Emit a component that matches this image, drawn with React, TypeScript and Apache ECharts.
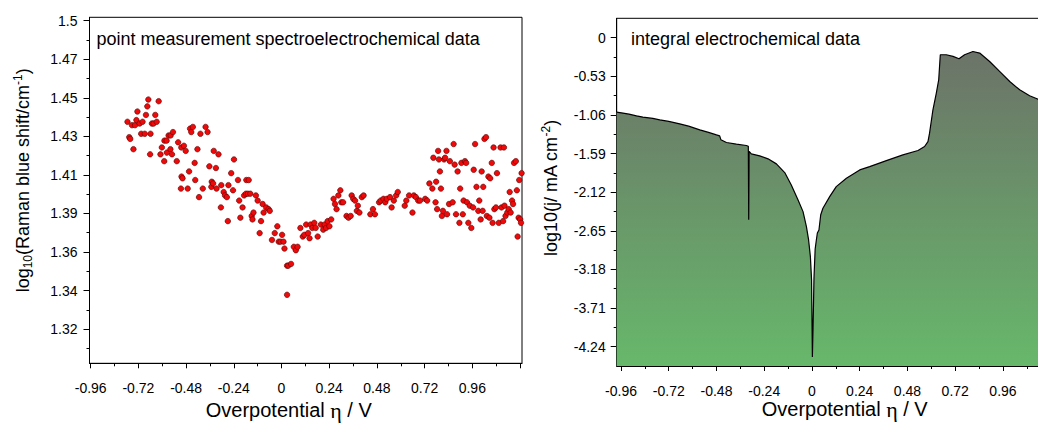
import React, { useEffect, useRef } from 'react';
import * as echarts from 'echarts';

// ---------- tick labels ----------
const X_TICKS = [-0.96, -0.72, -0.48, -0.24, 0, 0.24, 0.48, 0.72, 0.96, 1.2];
const X_MINOR_TICKS = [-0.84, -0.6, -0.36, -0.12, 0.12, 0.36, 0.6, 0.84, 1.08];
const X_LABEL_VALUES = [-0.96, -0.72, -0.48, -0.24, 0, 0.24, 0.48, 0.72, 0.96];
const X_LABELS = ['-0.96', '-0.72', '-0.48', '-0.24', '0', '0.24', '0.48', '0.72', '0.96'];

const RAMAN_Y_TICKS = [1.32, 1.3425, 1.365, 1.3875, 1.41, 1.4325, 1.455, 1.4775, 1.5];
const RAMAN_Y_LABELS = ['1.32', '1.34', '1.36', '1.39', '1.41', '1.43', '1.45', '1.47', '1.5'];
const RAMAN_Y_MINOR = [1.30875, 1.33125, 1.35375, 1.37625, 1.39875, 1.42125, 1.44375, 1.46625, 1.48875];

const CURRENT_Y_TICKS = [0, -0.53, -1.06, -1.59, -2.12, -2.65, -3.18, -3.71, -4.24];
const CURRENT_Y_LABELS = ['0', '-0.53', '-1.06', '-1.59', '-2.12', '-2.65', '-3.18', '-3.71', '-4.24'];
const CURRENT_Y_MINOR = [-0.265, -0.795, -1.325, -1.855, -2.385, -2.915, -3.445, -3.975];

// ---------- data: point measurement (Raman) ----------
const RAMAN_X = [
  -0.775, -0.766, -0.752, -0.737, -0.730, -0.725, -0.714, -0.706, -0.699, -0.688,
  -0.682, -0.675, -0.670, -0.659, -0.652, -0.644, -0.635, -0.628, -0.618, -0.568,
  -0.558, -0.546, -0.460, -0.454, -0.446, -0.408, -0.382, -0.372,
  -0.761, -0.745, -0.661, -0.609, -0.602, -0.590, -0.589, -0.578, -0.577, -0.559,
  -0.551, -0.527, -0.520, -0.504, -0.491, -0.482, -0.437, -0.423, -0.503, -0.498,
  -0.465, -0.506, -0.472, -0.434, -0.415, -0.396, -0.363, -0.351, -0.341, -0.330,
  -0.317, -0.353, -0.344, -0.327, -0.305, -0.303, -0.291, -0.284, -0.275, -0.270,
  -0.267, -0.253, -0.244, -0.239, -0.219, -0.213, -0.207, -0.196, -0.188, -0.177,
  -0.165, -0.179, -0.169, -0.157, -0.150, -0.146, -0.141, -0.129, -0.120, -0.110,
  -0.103, -0.095, -0.090, -0.077, -0.065, -0.059, -0.048, -0.034, -0.021, -0.014,
  -0.005, 0.003, 0.010, 0.015, 0.028, 0.034, 0.048, 0.062, 0.072, 0.081,
  0.095, 0.107, 0.115, 0.124, 0.134, 0.141, 0.146, 0.155, 0.165, 0.172,
  0.182, 0.198, 0.210, 0.217, 0.224, 0.232, 0.241, 0.250, 0.262, 0.269,
  0.277, 0.286, 0.296, 0.301, 0.310, 0.327, 0.337, 0.348, 0.353, 0.361,
  0.370, 0.379, 0.384, 0.392, 0.404, 0.413, 0.447, 0.460, 0.470, 0.491,
  0.499, 0.513, 0.522, 0.530, 0.546, 0.554, 0.565, 0.577, 0.585, 0.620,
  0.628, 0.642, 0.659, 0.666, 0.676, 0.688, 0.697, 0.723, 0.733, 0.744,
  0.759, 0.764, 0.775, 0.778, 0.783, 0.788, 0.792, 0.797, 0.802, 0.807,
  0.812, 0.818, 0.823, 0.830, 0.833, 0.843, 0.847, 0.861, 0.866, 0.871,
  0.878, 0.886, 0.895, 0.899, 0.905, 0.912, 0.916, 0.923, 0.929, 0.933,
  0.940, 0.947, 0.955, 0.964, 0.967, 0.974, 0.981, 0.990, 0.995, 1.002,
  1.007, 1.012, 1.015, 1.021, 1.029, 1.033, 1.041, 1.046, 1.050, 1.058,
  1.062, 1.067, 1.071, 1.079, 1.084, 1.093, 1.102, 1.107, 1.115, 1.119,
  1.122, 1.127, 1.136, 1.143, 1.148, 1.153, 1.160, 1.165, 1.170, 1.179,
  1.184, 1.188, 1.193, 1.196, 1.201, 1.205, 1.208, 0.028,
];
const RAMAN_Y = [
  1.441, 1.432, 1.439, 1.439, 1.442, 1.447, 1.440, 1.434, 1.441, 1.434,
  1.445, 1.450, 1.454, 1.434, 1.440, 1.440, 1.445, 1.441, 1.453, 1.433,
  1.433, 1.435, 1.437, 1.435, 1.438, 1.434, 1.438, 1.435,
  1.431, 1.425, 1.422, 1.422, 1.426, 1.418, 1.430, 1.430, 1.423, 1.425,
  1.422, 1.418, 1.429, 1.426, 1.427, 1.424, 1.417, 1.425, 1.409, 1.408,
  1.412, 1.402, 1.402, 1.407, 1.397, 1.402, 1.415, 1.406, 1.424, 1.414,
  1.422, 1.403, 1.405, 1.402, 1.391, 1.404, 1.400, 1.398, 1.397, 1.383,
  1.404, 1.411, 1.401, 1.419, 1.407, 1.395, 1.385, 1.391, 1.398, 1.407,
  1.407, 1.399, 1.399, 1.399, 1.386, 1.384, 1.388, 1.398, 1.395, 1.376,
  1.383, 1.393, 1.388, 1.391, 1.390, 1.389, 1.372, 1.376, 1.380, 1.371,
  1.371, 1.375, 1.371, 1.367, 1.357, 1.357, 1.358, 1.368, 1.366, 1.368,
  1.379, 1.374, 1.375, 1.381, 1.376, 1.373, 1.381, 1.379, 1.382, 1.379,
  1.374, 1.381, 1.378, 1.381, 1.379, 1.383, 1.380, 1.384, 1.396, 1.393,
  1.390, 1.398, 1.401, 1.394, 1.394, 1.386, 1.385, 1.386, 1.398, 1.396,
  1.395, 1.389, 1.392, 1.388, 1.397, 1.398, 1.387, 1.390, 1.387, 1.394,
  1.395, 1.396, 1.394, 1.396, 1.397, 1.391, 1.395, 1.398, 1.400, 1.392,
  1.395, 1.398, 1.388, 1.398, 1.397, 1.395, 1.395, 1.396, 1.395, 1.405,
  1.402, 1.420, 1.394, 1.406, 1.390, 1.424, 1.419, 1.412, 1.402, 1.386,
  1.389, 1.419, 1.420, 1.424, 1.387, 1.393, 1.418, 1.394, 1.428, 1.416,
  1.387, 1.412, 1.382, 1.402, 1.417, 1.387, 1.395, 1.418, 1.417, 1.394,
  1.382, 1.392, 1.379, 1.391, 1.413, 1.428, 1.403, 1.389, 1.395, 1.384,
  1.412, 1.389, 1.403, 1.431, 1.432, 1.386, 1.409, 1.385, 1.408, 1.417,
  1.382, 1.426, 1.390, 1.391, 1.411, 1.382, 1.426, 1.391, 1.383, 1.426,
  1.392, 1.386, 1.388, 1.390, 1.400, 1.388, 1.395, 1.393, 1.417, 1.418,
  1.401, 1.374, 1.385, 1.407, 1.384, 1.382, 1.411, 1.340,
];

// ---------- data: integral electrochemical ----------
const CURRENT_X = [
  -0.982, -0.95, -0.92, -0.882, -0.85, -0.80, -0.765, -0.72, -0.665, -0.62,
  -0.564, -0.52, -0.48, -0.464, -0.458, -0.43, -0.38, -0.33, -0.320, -0.318,
  -0.316, -0.305, -0.263, -0.221, -0.179, -0.137, -0.104, -0.070, -0.045, -0.028,
  -0.017, -0.008, -0.002, 0.002, 0.006, 0.010, 0.016, 0.022, 0.027, 0.035,
  0.044, 0.055, 0.089, 0.122, 0.173, 0.24, 0.29, 0.374, 0.457, 0.533,
  0.566, 0.583, 0.591, 0.608, 0.625, 0.637, 0.645, 0.675, 0.709, 0.739,
  0.767, 0.809, 0.843, 0.893, 0.943, 0.994, 1.044, 1.094, 1.134, 1.17, 1.21,
];
const CURRENT_Y = [
  -1.022, -1.035, -1.05, -1.073, -1.09, -1.108, -1.128, -1.15, -1.183, -1.215,
  -1.265, -1.30, -1.335, -1.348, -1.40, -1.439, -1.462, -1.48, -1.49, -2.50,
  -1.56, -1.595, -1.622, -1.663, -1.732, -1.851, -2.021, -2.227, -2.387, -2.593,
  -2.776, -3.005, -3.326, -4.38, -3.9, -3.3, -2.9, -2.776, -2.68, -2.64,
  -2.43, -2.341, -2.181, -2.044, -1.929, -1.815, -1.769, -1.687, -1.609, -1.549,
  -1.494, -1.426, -1.311, -0.990, -0.761, -0.578, -0.235, -0.235, -0.258, -0.290,
  -0.235, -0.190, -0.212, -0.327, -0.464, -0.602, -0.716, -0.798, -0.843, -0.875, -0.90,
];

const FONT = '"Liberation Sans", Arial, sans-serif';
const SERIF = '"Liberation Serif", "Times New Roman", serif';

const lookup = (values: number[], labels: string[]) => (v: number) => {
  const i = values.findIndex((t) => Math.abs(t - v) < 1e-6);
  return i >= 0 ? labels[i] : '';
};

export default function App() {
  const ref = useRef<HTMLDivElement>(null);

  useEffect(() => {
    if (!ref.current) return;
    const chart = echarts.init(ref.current, undefined, { renderer: 'svg' });

    const nameRich = {
      m: { fontFamily: FONT, fontSize: 18, color: '#000', lineHeight: 22 },
      sub: { fontFamily: FONT, fontSize: 12, color: '#000', lineHeight: 12, verticalAlign: 'bottom' },
      sup: { fontFamily: FONT, fontSize: 12, color: '#000', lineHeight: 12, verticalAlign: 'top' },
    };
    const xNameRich = {
      m: { fontFamily: FONT, fontSize: 20, color: '#000', lineHeight: 22 },
      eta: { fontFamily: SERIF, fontSize: 22, color: '#000', lineHeight: 22 },
    };

    const baseLabel = { fontFamily: FONT, fontSize: 14, color: '#000' };

    const mainX = (grid: number, min: number, gap: number, padding: number[]) => ({
      type: 'value',
      gridIndex: grid,
      min,
      max: 1.21,
      position: 'bottom',
      name: '{m|Overpotential }{eta|η}{m| / V}',
      nameLocation: 'middle',
      nameGap: gap,
      nameMoveOverlap: false,
      nameTextStyle: { rich: xNameRich, padding },
      axisLine: { show: true, onZero: false, lineStyle: { color: '#000', width: 1 } },
      axisTick: { show: true, length: 5, customValues: X_TICKS, lineStyle: { color: '#000' } },
      axisLabel: {
        ...baseLabel,
        margin: 18,
        customValues: X_LABEL_VALUES,
        formatter: lookup(X_LABEL_VALUES, X_LABELS),
      },
      splitLine: { show: false },
    });
    const minorX = (grid: number, min: number) => ({
      type: 'value',
      gridIndex: grid,
      min,
      max: 1.21,
      position: 'bottom',
      axisLine: { show: false, onZero: false },
      axisTick: { show: true, length: 3, customValues: X_MINOR_TICKS, lineStyle: { color: '#000' } },
      axisLabel: { show: false },
      splitLine: { show: false },
    });

    const gridBase = {
      show: true,
      borderColor: '#000',
      borderWidth: 1,
      backgroundColor: 'transparent',
      containLabel: false,
      outerBoundsMode: 'none',
    };

    const option = {
      animation: false,
      backgroundColor: '#fff',
      grid: [
        { ...gridBase, left: 89.5, top: 17.3, width: 432.5, height: 346 },
        { ...gridBase, left: 616.7, top: 18.3, width: 436, height: 347.7 },
      ],
      xAxis: [
        mainX(0, -0.966, 36, [0, 34, 0, 0]),
        minorX(0, -0.966),
        mainX(1, -0.9816, 32, [0, 0, 0, 20]),
        minorX(1, -0.9816),
      ],
      yAxis: [
        {
          type: 'value',
          gridIndex: 0,
          min: 1.3,
          max: 1.502,
          position: 'left',
          name: '{m|log}{sub|10}{m|(Raman blue shift/cm}{sup|-1}{m|)}',
          nameLocation: 'middle',
          nameRotate: 90,
          nameGap: 56,
          nameTextStyle: { rich: nameRich, padding: [0, 0, 0, 20] },
          axisLine: { show: true, onZero: false, lineStyle: { color: '#000', width: 1 } },
          axisTick: { show: true, length: 6, customValues: RAMAN_Y_TICKS, lineStyle: { color: '#000' } },
          axisLabel: { ...baseLabel, margin: 12, customValues: RAMAN_Y_TICKS, formatter: lookup(RAMAN_Y_TICKS, RAMAN_Y_LABELS) },
          splitLine: { show: false },
        },
        {
          type: 'value',
          gridIndex: 0,
          min: 1.3,
          max: 1.502,
          position: 'left',
          axisLine: { show: false, onZero: false },
          axisTick: { show: true, length: 3, customValues: RAMAN_Y_MINOR, lineStyle: { color: '#000' } },
          axisLabel: { show: false },
          splitLine: { show: false },
        },
        {
          type: 'value',
          gridIndex: 1,
          min: -4.505,
          max: 0.265,
          position: 'left',
          name: '{m|log10(j/ mA cm}{sup|-2}{m|)}',
          nameLocation: 'middle',
          nameRotate: 90,
          nameGap: 55,
          nameTextStyle: { rich: nameRich, padding: [0, 0, 0, 8] },
          axisLine: { show: true, onZero: false, lineStyle: { color: '#000', width: 1 } },
          axisTick: { show: true, length: 6, customValues: CURRENT_Y_TICKS, lineStyle: { color: '#000' } },
          axisLabel: { ...baseLabel, margin: 11, customValues: CURRENT_Y_TICKS, formatter: lookup(CURRENT_Y_TICKS, CURRENT_Y_LABELS) },
          splitLine: { show: false },
        },
        {
          type: 'value',
          gridIndex: 1,
          min: -4.505,
          max: 0.265,
          position: 'left',
          axisLine: { show: false, onZero: false },
          axisTick: { show: true, length: 3, customValues: CURRENT_Y_MINOR, lineStyle: { color: '#000' } },
          axisLabel: { show: false },
          splitLine: { show: false },
        },
      ],
      series: [
        {
          type: 'scatter',
          name: 'point measurement spectroelectrochemical data',
          xAxisIndex: 0,
          yAxisIndex: 0,
          symbol: 'circle',
          symbolSize: 5.5,
          itemStyle: { color: '#ee0a0a', borderColor: '#5a0000', borderWidth: 0.6, opacity: 1 },
          data: RAMAN_X.map((x, i) => [x, RAMAN_Y[i]]),
        },
        {
          type: 'line',
          name: 'integral electrochemical data',
          xAxisIndex: 2,
          yAxisIndex: 2,
          showSymbol: false,
          symbol: 'none',
          lineStyle: { color: '#000', width: 1.2 },
          areaStyle: {
            origin: 'start',
            opacity: 1,
            color: new echarts.graphic.LinearGradient(0, 0, 0, 1, [
              { offset: 0, color: '#6c7368' },
              { offset: 1, color: '#67b86b' },
            ]),
          },
          data: CURRENT_X.map((x, i) => [x, CURRENT_Y[i]]),
        },
      ],
      graphic: [
        {
          type: 'text',
          left: 96.5,
          top: 30,
          style: { text: 'point measurement spectroelectrochemical data', fontFamily: FONT, fontSize: 18, fill: '#000' },
        },
        {
          type: 'text',
          left: 631,
          top: 30,
          style: { text: 'integral electrochemical data', fontFamily: FONT, fontSize: 18, fill: '#000' },
        },
      ],
    };

    chart.setOption(option as any);
    return () => chart.dispose();
  }, []);

  return (
    <div
      ref={ref}
      style={{ position: 'absolute', left: 0, top: 0, width: 1038, height: 423, background: '#fff' }}
    />
  );
}
